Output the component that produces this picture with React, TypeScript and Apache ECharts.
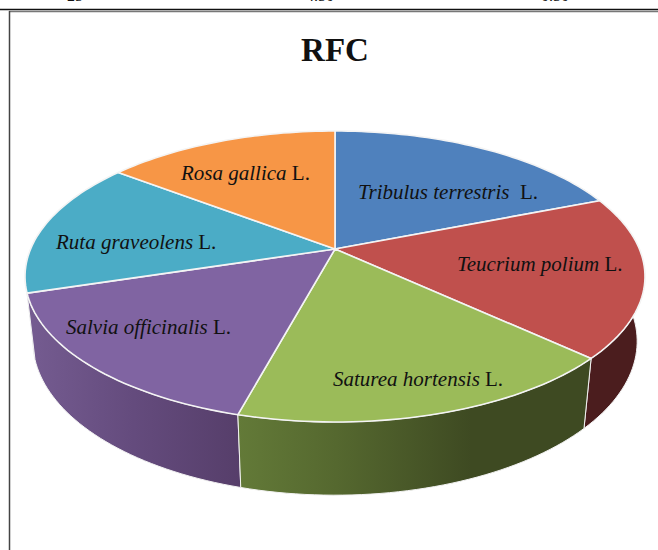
import React, { useEffect, useRef } from "react";
import * as echarts from "echarts";

const speciesItalic = ["Tribulus terrestris ", "Teucrium polium", "Saturea hortensis", "Salvia officinalis", "Ruta graveolens", "Rosa gallica"];
const authorities = [" L.", " L.", " L.", " L.", " L.", " L."];
const shares = [19.0, 17.9, 17.3, 16.0, 15.2, 14.6];
const topColors = ["#4F81BD", "#C0504D", "#9BBB59", "#8064A2", "#4BACC6", "#F79646"];
const wallStops: [number, string][][] = [
  [[0, "#2a4566"], [1, "#2a4566"]],
  [[0, "#4b1d1e"], [1, "#4b1d1e"]],
  [[0, "#637a38"], [0.28, "#55682f"], [0.66, "#3e4a22"], [1, "#3e4a22"]],
  [[0, "#755c91"], [0.5, "#644b7d"], [1, "#563e6a"]],
  [[0, "#2a6070"], [1, "#2a6070"]],
  [[0, "#8a5220"], [1, "#8a5220"]],
];
const labelAnchors = [[358, 192], [457, 264], [333, 379], [66, 327], [56, 242], [181, 173]];
const clippedHeaders = [["25", 75], ["4.50", 320], ["0.50", 555]] as [string, number][];

// perspective model of the pie disc
const apexX = 335, apexY = 249, halfW = 304.4, halfH = 140.3, persp = 0.189, depth = 65.5, recede = 0.025;

const total = shares.reduce((s, v) => s + v, 0);
const startAngles = shares.map((_, i) => (shares.slice(0, i).reduce((s, v) => s + v, 0) / total) * 360);

function project(deg: number, lower: boolean): number[] {
  const t = (deg * Math.PI) / 180;
  const u = Math.sin(t), v = -Math.cos(t);
  const w = 1 - persp * v + (lower ? recede : 0);
  return [apexX + (halfW * u) / w, apexY + (halfH * v + (lower ? depth : 0)) / w];
}
function arcPoints(a: number, b: number, lower: boolean): number[][] {
  const n = Math.max(2, Math.ceil(Math.abs(b - a) / 1.5));
  const pts: number[][] = [];
  for (let i = 0; i <= n; i++) pts.push(project(a + ((b - a) * i) / n, lower));
  return pts;
}

const wallItem = (params: any, api: any) => {
  const i = params.dataIndex;
  const from = Math.max(startAngles[i], 60);
  const to = Math.min(startAngles[i] + (api.value(0) / total) * 360, 300);
  if (to <= from) return null;
  const up = arcPoints(from, to, false);
  const low = arcPoints(from, to, true);
  const xs = [...up, ...low].map((p) => p[0]);
  const mid = (from + to) / 2;
  return {
    type: "polygon",
    z2: Math.round(-Math.cos((mid * Math.PI) / 180) * 100) + 100,
    shape: { points: [...up, ...low.reverse()] },
    style: {
      fill: {
        type: "linear", global: true,
        x: Math.min(...xs), y: 0, x2: Math.max(...xs), y2: 0,
        colorStops: wallStops[i].map(([offset, color]) => ({ offset, color })),
      },
      stroke: "#f2f2f2", lineWidth: 1,
    },
  };
};

const faceItem = (params: any, api: any) => {
  const i = params.dataIndex;
  const from = startAngles[i];
  const to = from + (api.value(0) / total) * 360;
  const [lx, ly] = labelAnchors[i];
  return {
    type: "group",
    children: [
      {
        type: "polygon",
        shape: { points: [[apexX, apexY], ...arcPoints(from, to, false)] },
        style: { fill: topColors[i], stroke: "#f4f4f4", lineWidth: 1.6, lineJoin: "round" },
      },
      {
        type: "text", z2: 10,
        style: {
          x: lx, y: ly, verticalAlign: "middle", align: "left",
          text: `{i|${speciesItalic[i]}}{n|${authorities[i]}}`,
          fill: "#111",
          rich: {
            i: { fontFamily: "Liberation Serif", fontStyle: "italic", fontSize: 21, fill: "#111", color: "#111" },
            n: { fontFamily: "Liberation Serif", fontSize: 21, fill: "#111", color: "#111" },
          },
        },
      },
    ],
  };
};

export default function App() {
  const ref = useRef<HTMLDivElement>(null);
  useEffect(() => {
    document.body.style.margin = "0";
    const chart = echarts.init(ref.current!, undefined, { renderer: "svg" });
    chart.setOption({
      animation: false,
      backgroundColor: "#ffffff",
      title: {
        text: "RFC", left: 330, top: 28, textAlign: "center",
        textStyle: { fontFamily: "Liberation Serif", fontWeight: "bold", fontSize: 33, color: "#111" },
      },
      graphic: [
        ...clippedHeaders.map(([text, x]) => ({
          type: "text", x, y: 3,
          style: { text, fontFamily: "Liberation Serif", fontSize: 16, fill: "#111", align: "center", verticalAlign: "bottom" },
        })),
        { type: "line", shape: { x1: 0, y1: 9.5, x2: 658, y2: 9.5 }, style: { stroke: "#111", lineWidth: 1.5 } },
        { type: "line", shape: { x1: 9, y1: 11.5, x2: 658, y2: 11.5 }, style: { stroke: "#777", lineWidth: 1.5 } },
        { type: "line", shape: { x1: 9.5, y1: 11, x2: 9.5, y2: 550 }, style: { stroke: "#444", lineWidth: 1.5 } },
      ],
      series: [
        { type: "custom", coordinateSystem: "none", z: 2, data: shares.map((v) => [v]), renderItem: wallItem, silent: true },
        { type: "custom", coordinateSystem: "none", z: 3, data: shares.map((v) => [v]), renderItem: faceItem, silent: true },
      ],
    });
    return () => chart.dispose();
  }, []);
  return <div ref={ref} style={{ width: 658, height: 550 }} />;
}
